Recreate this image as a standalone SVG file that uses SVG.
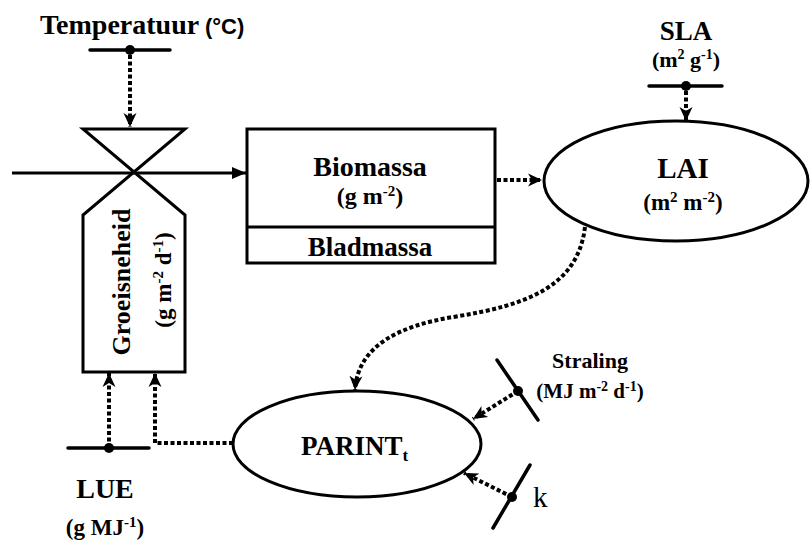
<svg xmlns="http://www.w3.org/2000/svg" width="810" height="541" viewBox="0 0 810 541">
  <style>
    .shape { fill: #fff; stroke: #000; stroke-width: 3; }
    .solid { fill: none; stroke: #000; stroke-width: 3; }
    .dot-line { fill: none; stroke: #000; stroke-width: 4; stroke-dasharray: 4 2.5; }
    .bar { fill: none; stroke: #000; stroke-width: 3.5; stroke-linecap: round; }
    .pin { fill: #000; }
    .lbl { font-family: "Liberation Serif", "Times New Roman", serif; font-weight: bold; fill: #000; }
    .mid { text-anchor: middle; }
  </style>
  <defs>
    <marker id="arrowSolid" markerUnits="userSpaceOnUse" markerWidth="16" markerHeight="14" refX="14" refY="7" orient="auto">
      <path d="M0,1 L14,7 L0,13 Z" fill="#000"/>
    </marker>
    <marker id="arrowDot" markerUnits="userSpaceOnUse" markerWidth="16" markerHeight="16" refX="14" refY="8" orient="auto">
      <path d="M0,1.5 L14,8 L0,14.5 L4,8 Z" fill="#000"/>
    </marker>
  </defs>

  <!-- rate valve with growth-rate body -->
  <g id="groeisneheid">
    <path class="shape" d="M83,129 H185 L83,215 V372 H185 V215 Z"/>
    <text class="lbl mid" font-size="26" transform="translate(130,282) rotate(-90)">Groeisneheid</text>
    <text class="lbl mid" font-size="23" transform="translate(171,280) rotate(-90)">(g m<tspan font-size="15" dy="-8">-2</tspan><tspan dy="8"> d</tspan><tspan font-size="15" dy="-8">-1</tspan><tspan dy="8">)</tspan></text>
  </g>

  <!-- biomass stock -->
  <g id="biomassa">
    <rect class="shape" x="247" y="129" width="248" height="134"/>
    <line class="solid" x1="247" y1="227" x2="495" y2="227"/>
    <text class="lbl mid" x="370" y="176" font-size="28">Biomassa</text>
    <text class="lbl mid" x="370" y="204" font-size="24">(g m<tspan font-size="15" dy="-8">-2</tspan><tspan dy="8">)</tspan></text>
    <text class="lbl mid" x="370" y="256" font-size="27">Bladmassa</text>
  </g>

  <!-- leaf area index -->
  <g id="lai">
    <ellipse class="shape" cx="676" cy="181" rx="132" ry="60"/>
    <text class="lbl mid" x="683" y="178" font-size="29">LAI</text>
    <text class="lbl mid" x="683" y="210" font-size="23">(m<tspan font-size="15" dy="-8">2</tspan><tspan dy="8"> m</tspan><tspan font-size="15" dy="-8">-2</tspan><tspan dy="8">)</tspan></text>
  </g>

  <!-- intercepted radiation -->
  <g id="parint">
    <ellipse class="shape" cx="357" cy="444" rx="124" ry="53"/>
    <text class="lbl" x="301" y="455" font-size="27">PARINT<tspan font-size="17" dy="6">t</tspan></text>
  </g>

  <!-- driving variables and parameters -->
  <g id="temperatuur">
    <text class="lbl" x="40" y="34" font-size="28">Temperatuur <tspan x="205" font-family="Liberation Sans, Arial, sans-serif" font-size="22">(°C)</tspan></text>
    <line class="bar" x1="90" y1="50" x2="170" y2="50"/>
    <circle class="pin" cx="130" cy="50" r="5"/>
  </g>

  <g id="sla">
    <text class="lbl mid" x="686" y="40" font-size="27">SLA</text>
    <text class="lbl mid" x="686" y="67" font-size="22">(m<tspan font-size="14" dy="-8">2</tspan><tspan dy="8"> g</tspan><tspan font-size="14" dy="-8">-1</tspan><tspan dy="8">)</tspan></text>
    <line class="bar" x1="649" y1="86" x2="722" y2="86"/>
    <circle class="pin" cx="686" cy="86" r="5"/>
  </g>

  <g id="lue">
    <line class="bar" x1="68" y1="448" x2="149" y2="448"/>
    <circle class="pin" cx="109" cy="448" r="5"/>
    <text class="lbl mid" x="105" y="498" font-size="28">LUE</text>
    <text class="lbl mid" x="105" y="535" font-size="23">(g MJ<tspan font-size="15" dy="-8">-1</tspan><tspan dy="8">)</tspan></text>
  </g>

  <g id="straling">
    <line class="bar" x1="497" y1="360" x2="538" y2="420"/>
    <circle class="pin" cx="518" cy="391" r="5"/>
    <text class="lbl mid" x="590" y="368" font-size="22">Straling</text>
    <text class="lbl mid" x="590" y="398" font-size="21">(MJ m<tspan font-size="14" dy="-7">-2</tspan><tspan dy="7"> d</tspan><tspan font-size="14" dy="-7">-1</tspan><tspan dy="7">)</tspan></text>
  </g>

  <g id="k">
    <line class="bar" x1="530" y1="465" x2="493" y2="528"/>
    <circle class="pin" cx="512" cy="497" r="5"/>
    <text x="533" y="507" font-family="Liberation Serif, Times New Roman, serif" font-size="29">k</text>
  </g>

  <!-- flows and information links -->
  <g id="connectors">
    <line class="solid" x1="12" y1="173" x2="246" y2="173" marker-end="url(#arrowSolid)"/>
    <path class="dot-line" d="M130,55 V127" marker-end="url(#arrowDot)"/>
    <path class="dot-line" d="M497,180 H542" marker-end="url(#arrowDot)"/>
    <path class="dot-line" d="M686,91 V121" marker-end="url(#arrowDot)"/>
    <path class="dot-line" d="M585,227 C578,285 530,305 453,317 C400,326 358,345 355,390" marker-end="url(#arrowDot)"/>
    <path class="dot-line" d="M518,391 L473,419" marker-end="url(#arrowDot)"/>
    <path class="dot-line" d="M512,497 L464,473" marker-end="url(#arrowDot)"/>
    <path class="dot-line" d="M109,448 V373" marker-end="url(#arrowDot)"/>
    <path class="dot-line" d="M233,443 H155 V373" marker-end="url(#arrowDot)"/>
  </g>
</svg>
